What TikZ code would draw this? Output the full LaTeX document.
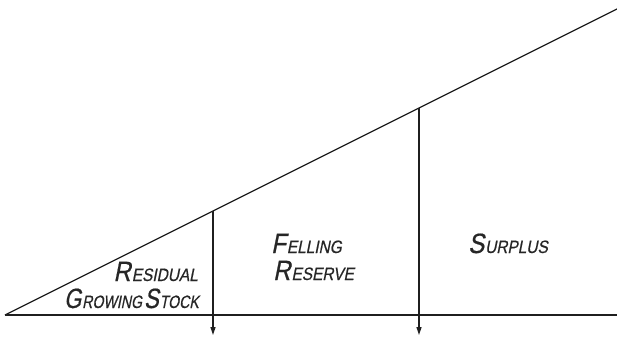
\documentclass[tikz,border=0pt]{standalone}
\usepackage{fontspec}
\usetikzlibrary{arrows.meta}
\newfontfamily\handfont[FakeSlant=0.2,FakeStretch=0.86,FakeBold=0.6]{Liberation Sans}
\newfontfamily\handfontn[FakeSlant=0.2,FakeStretch=0.79,FakeBold=0.6]{Liberation Sans}
\newcommand\bgsm[2]{{\fontsize{28}{28}\selectfont #1}\kern1bp{\fontsize{18}{18}\selectfont #2}}
\tikzset{
  edge/.style={line width=1.3bp, draw=black!88},
  divider/.style={edge, -{Triangle[length=8bp,width=5bp]}},
  label/.style={inner sep=0pt, text=black!85, font=\handfont},
}
\begin{document}
\begin{tikzpicture}[x=1bp,y=-1bp]
\useasboundingbox (0,0) rectangle (617,337);
\coordinate (apex) at (5,315);
\coordinate (topend) at (617,9);
\coordinate (baseend) at (617,315);
\coordinate (t1) at (213,211);
\coordinate (t2) at (419,108);
\coordinate (b1) at (213,335);
\coordinate (b2) at (419,335);
\draw[edge] (apex) -- (topend);
\draw[edge] (apex) -- (baseend);
\draw[divider] (t1) -- (b1);
\draw[divider] (t2) -- (b2);
\node[label, anchor=base east] (res) at (198,281) {\bgsm{R}{ESIDUAL}};
\node[label, anchor=base east, font=\handfontn] (grow) at (199,308) {\bgsm{G}{ROWING}\hspace{2bp}\bgsm{S}{TOCK}};
\node[label, anchor=base west] (fell) at (271,253) {\bgsm{F}{ELLING}};
\node[label, anchor=base west] (resv) at (273,280) {\bgsm{R}{ESERVE}};
\node[label, anchor=base west] (surp) at (468,253) {\bgsm{S}{URPLUS}};
\end{tikzpicture}
\end{document}
